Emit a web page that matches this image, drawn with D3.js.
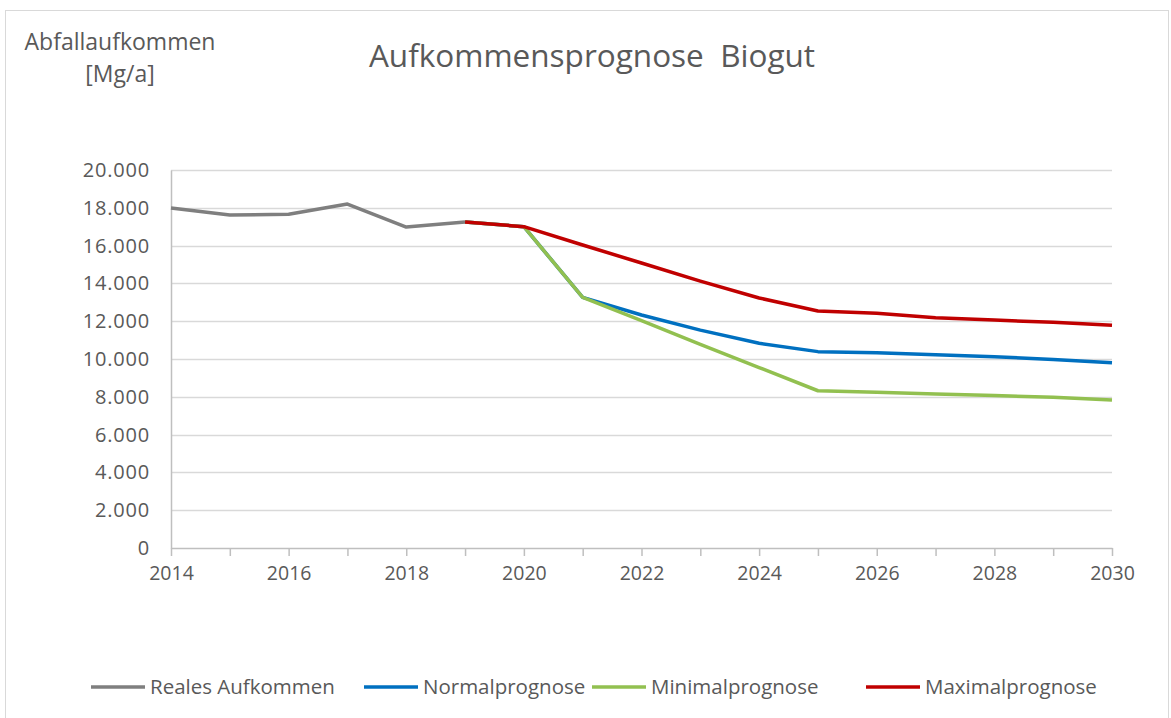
<!DOCTYPE html>
<html>
<head>
<meta charset="utf-8">
<script src="https://cdn.jsdelivr.net/npm/d3@7"></script>
<style>
  body { margin: 0; background: #fff; }
  text { font-family: "Open Sans", Lato, sans-serif; fill: #595959; }
</style>
</head>
<body>
<div id="chart"></div>
<script>

// data
var years = d3.range(2014, 2031);
var realYears = [2014, 2015, 2016, 2017, 2018, 2019];
var realValues = [17990, 17620, 17660, 18200, 16980, 17250];

var progYears = [2019, 2020, 2021, 2022, 2023, 2024, 2025, 2026, 2027, 2028, 2029, 2030];
var normalValues = [17250, 17000, 13260, 12330, 11530, 10830, 10390, 10330, 10230, 10120, 9980, 9800];
var minimalValues = [17250, 17000, 13260, 12030, 10780, 9550, 8320, 8240, 8150, 8070, 7970, 7830];
var maximalValues = [17250, 17000, 16030, 15080, 14120, 13230, 12540, 12420, 12180, 12060, 11940, 11780];

var yTicks = [0, 2000, 4000, 6000, 8000, 10000, 12000, 14000, 16000, 18000, 20000];
var xTicks = [2014, 2016, 2018, 2020, 2022, 2024, 2026, 2028, 2030];

var seriesNames = ["Reales Aufkommen", "Normalprognose", "Minimalprognose", "Maximalprognose"];
var seriesColors = ["#7f7f7f", "#0070c0", "#92c050", "#c00000"];

var margin = { left: 171, right: 59, top: 170, bottom: 170 };
var W = 1171, H = 718;
var width = W - margin.left - margin.right;
var height = H - margin.top - margin.bottom;

var svg = d3.select("#chart").append("svg")
  .attr("width", W)
  .attr("height", H);

// outer frame
svg.append("rect")
  .attr("x", 5.5).attr("y", 10.5)
  .attr("width", W - 8).attr("height", H - 8)
  .attr("fill", "none").attr("stroke", "#d9d9d9");

var g = svg.append("g")
  .attr("transform", "translate(" + margin.left + "," + margin.top + ")");

var x = d3.scaleLinear().domain([2014, 2030]).range([0, width]);
var y = d3.scaleLinear().domain([0, 20000]).range([height, 0]);

var fmt = function (d) { return d3.format(",")(d).replace(/,/g, "."); };

// gridlines
g.append("g")
  .selectAll("line")
  .data(yTicks.slice(1)).enter()
  .append("line")
    .attr("x1", 0).attr("x2", width)
    .attr("y1", function (d) { return Math.round(y(d)) + 0.5; })
    .attr("y2", function (d) { return Math.round(y(d)) + 0.5; })
    .attr("stroke", "#d9d9d9")
    .attr("stroke-width", 1.5);

// y axis
var yAxis = g.append("g")
  .call(d3.axisLeft(y).tickValues(yTicks).tickFormat(fmt).tickSize(0).tickPadding(21));
yAxis.select(".domain").attr("stroke", "#bfbfbf").attr("stroke-width", 1.5);
yAxis.selectAll("text").style("font-size", "20px").style("letter-spacing", "0.8px").attr("fill", "#595959");

// x axis
var xAxis = g.append("g")
  .attr("transform", "translate(0," + height + ")")
  .call(d3.axisBottom(x).tickValues(years).tickFormat(function (d) {
    return xTicks.indexOf(d) >= 0 ? d : "";
  }).tickSize(8).tickSizeOuter(0).tickPadding(10));
xAxis.select(".domain").attr("stroke", "#bfbfbf").attr("stroke-width", 1.5);
xAxis.selectAll(".tick line").attr("stroke", "#bfbfbf").attr("stroke-width", 1.5);
xAxis.selectAll("text").style("font-size", "19.5px").attr("fill", "#595959");

// lines
var line = d3.line()
  .x(function (d) { return x(d[0]); })
  .y(function (d) { return y(d[1]); });

var seriesData = [
  d3.zip(realYears, realValues),
  d3.zip(progYears, normalValues),
  d3.zip(progYears, minimalValues),
  d3.zip(progYears, maximalValues)
];

g.selectAll(".series")
  .data(seriesData).enter()
  .append("path")
    .attr("class", "series")
    .attr("d", line)
    .attr("fill", "none")
    .attr("stroke", function (d, i) { return seriesColors[i]; })
    .attr("stroke-width", 3.5)
    .attr("stroke-linejoin", "round");

// title
svg.append("text")
  .attr("x", 592).attr("y", 67)
  .attr("text-anchor", "middle")
  .style("font-size", "31.5px")
  .attr("xml:space", "preserve")
  .text("Aufkommensprognose  Biogut");

// y axis title
svg.append("text")
  .attr("x", 120).attr("y", 50)
  .attr("text-anchor", "middle")
  .style("font-size", "23px")
  .text("Abfallaufkommen");
svg.append("text")
  .attr("x", 120).attr("y", 82)
  .attr("text-anchor", "middle")
  .style("font-size", "23px")
  .text("[Mg/a]");

// legend
var legendX = [91, 364, 592, 866];
var legend = svg.selectAll(".legend")
  .data(seriesNames).enter()
  .append("g")
    .attr("class", "legend")
    .attr("transform", function (d, i) { return "translate(" + legendX[i] + ",687)"; });

legend.append("line")
  .attr("x1", 0).attr("x2", 54)
  .attr("stroke", function (d, i) { return seriesColors[i]; })
  .attr("stroke-width", 3.5);

legend.append("text")
  .attr("x", 59).attr("y", 7)
  .style("font-size", "20.5px")
  .text(function (d) { return d; });

</script>
</body>
</html>
